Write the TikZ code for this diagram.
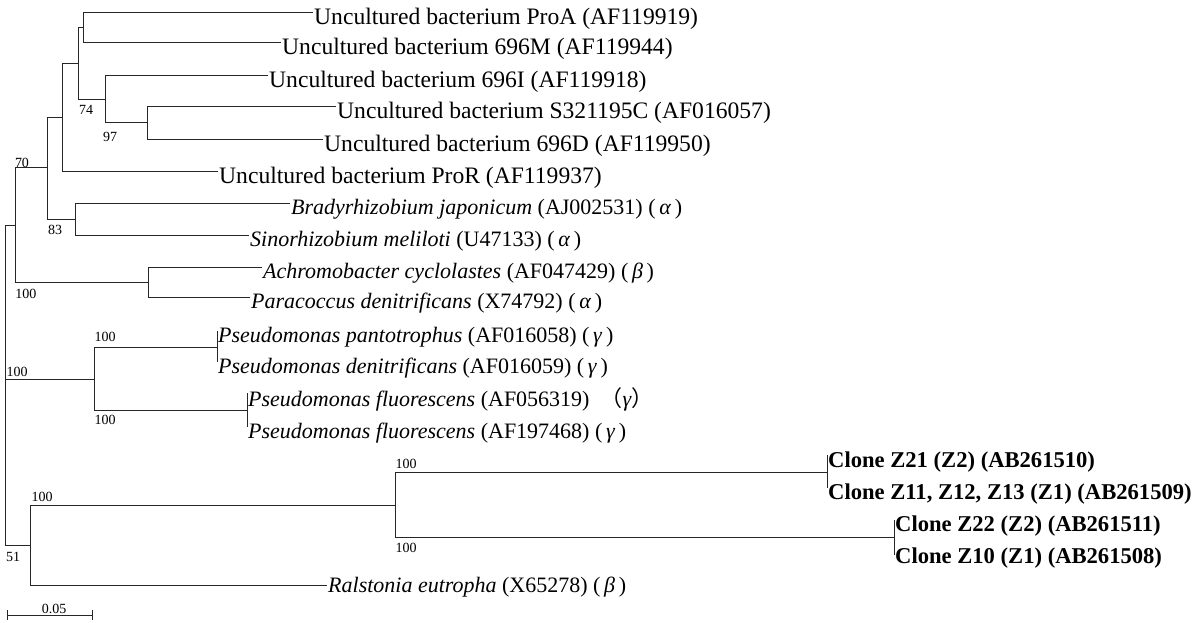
\documentclass[tikz,border=0pt]{standalone}
\usepackage{fontspec}
\setmainfont{Liberation Serif}
\newfontfamily\cjkfnt{Noto Sans CJK SC}
\newcommand\lffont{\fontsize{23.6}{25}\selectfont}
\newcommand\itfont{\fontsize{22}{24}\selectfont}
\newcommand\clfont{\fontsize{22.6}{24}\selectfont\bfseries}
\newcommand\bsfont{\fontsize{14}{16}\selectfont}
\newcommand\gk[1]{(\,\textit{#1}\,)}
\begin{document}
\begin{tikzpicture}[x=1pt,y=-1pt,
  br/.style={line width=1pt,draw=black!85},
  lf/.style={anchor=west,inner sep=1pt,font=\lffont},
  it/.style={anchor=west,inner sep=1pt,font=\itfont},
  cl/.style={anchor=west,inner sep=1pt,font=\clfont},
  bs/.style={inner sep=0pt,font=\bsfont}]
\useasboundingbox (0,0) rectangle (1200,623);
% internal nodes
\coordinate (R) at (5,379);
\coordinate (A) at (15,225);
\coordinate (N70) at (47,168);
\coordinate (N62) at (62,118);
\coordinate (N78) at (78,64);
\coordinate (N83b) at (83,28);
\coordinate (N105) at (105,100);
\coordinate (N147) at (147,123);
\coordinate (N75) at (75,219);
\coordinate (N148) at (148,282);
\coordinate (B) at (94,379);
\coordinate (P1) at (217,347);
\coordinate (P2) at (247,410);
\coordinate (C) at (30,545);
\coordinate (D) at (395,505);
\coordinate (E) at (827,472);
\coordinate (F) at (894,537);
% leaves
\coordinate (lProA) at (313,13);
\coordinate (l696M) at (281,43);
\coordinate (l696I) at (268,76);
\coordinate (lS32) at (336,107);
\coordinate (l696D) at (323,140);
\coordinate (lProR) at (218,172);
\coordinate (lBrady) at (290,203);
\coordinate (lSino) at (249,235);
\coordinate (lAchro) at (262,267);
\coordinate (lPara) at (250,297);
\coordinate (lPpan) at (217,331);
\coordinate (lPden) at (217,362);
\coordinate (lPfa) at (247,393);
\coordinate (lPfb) at (247,427);
\coordinate (lZa) at (827,455);
\coordinate (lZb) at (827,488);
\coordinate (lZc) at (894,520);
\coordinate (lZd) at (894,555);
\coordinate (lRal) at (327,585);
% branches
\draw[br] (R) |- (A);
\draw[br] (R) -- (B);
\draw[br] (R) |- (C);
\draw[br] (A) |- (N70);
\draw[br] (A) |- (N148);
\draw[br] (N70) |- (N62);
\draw[br] (N70) |- (N75);
\draw[br] (N62) |- (N78);
\draw[br] (N62) |- (lProR);
\draw[br] (N78) |- (N83b);
\draw[br] (N78) |- (N105);
\draw[br] (N83b) |- (lProA);
\draw[br] (N83b) |- (l696M);
\draw[br] (N105) |- (l696I);
\draw[br] (N105) |- (N147);
\draw[br] (N147) |- (lS32);
\draw[br] (N147) |- (l696D);
\draw[br] (N75) |- (lBrady);
\draw[br] (N75) |- (lSino);
\draw[br] (N148) |- (lAchro);
\draw[br] (N148) |- (lPara);
\draw[br] (B) |- (P1);
\draw[br] (B) |- (P2);
\draw[br] (lPpan) -- (lPden);
\draw[br] (lPfa) -- (lPfb);
\draw[br] (C) |- (D);
\draw[br] (C) |- (lRal);
\draw[br] (D) |- (E);
\draw[br] (D) |- (F);
\draw[br] (lZa) -- (lZb);
\draw[br] (lZc) -- (lZd);
% leaf labels
\node[lf] (tProA) at ([yshift=-6pt]lProA) {Uncultured bacterium ProA (AF119919)};
\node[lf] (t696M) at ([yshift=-6pt]l696M) {Uncultured bacterium 696M (AF119944)};
\node[lf] (t696I) at ([yshift=-6pt]l696I) {Uncultured bacterium 696I (AF119918)};
\node[lf] (tS32) at ([yshift=-6pt]lS32) {Uncultured bacterium S321195C (AF016057)};
\node[lf] (t696D) at ([yshift=-6pt]l696D) {Uncultured bacterium 696D (AF119950)};
\node[lf] (tProR) at ([yshift=-6pt]lProR) {Uncultured bacterium ProR (AF119937)};
\node[it] (tBrady) at ([yshift=-6pt]lBrady) {\textit{Bradyrhizobium japonicum} (AJ002531) \gk{α}};
\node[it] (tSino) at ([yshift=-6pt]lSino) {\textit{Sinorhizobium meliloti} (U47133) \gk{α}};
\node[it] (tAchro) at ([yshift=-6pt]lAchro) {\textit{Achromobacter cyclolastes} (AF047429) \gk{β}};
\node[it] (tPara) at ([yshift=-6pt]lPara) {\textit{Paracoccus denitrificans} (X74792) \gk{α}};
\node[it] (tPpan) at ([yshift=-6pt]lPpan) {\textit{Pseudomonas pantotrophus} (AF016058) \gk{γ}};
\node[it] (tPden) at ([yshift=-6pt]lPden) {\textit{Pseudomonas denitrificans} (AF016059) \gk{γ}};
\node[it] (tPfa) at ([yshift=-6pt]lPfa) {\textit{Pseudomonas fluorescens} (AF056319) \ {\cjkfnt （}\textit{γ}{\cjkfnt ）}};
\node[it] (tPfb) at ([yshift=-6pt]lPfb) {\textit{Pseudomonas fluorescens} (AF197468) \gk{γ}};
\node[cl] (tZa) at ([yshift=-7pt]lZa) {Clone Z21 (Z2) (AB261510)};
\node[cl] (tZb) at ([yshift=-6pt]lZb) {Clone Z11, Z12, Z13 (Z1) (AB261509)};
\node[cl] (tZc) at ([yshift=-6pt]lZc) {Clone Z22 (Z2) (AB261511)};
\node[cl] (tZd) at ([yshift=-3pt]lZd) {Clone Z10 (Z1) (AB261508)};
\node[it] (tRal) at ([yshift=-2pt]lRal) {\textit{Ralstonia eutropha} (X65278) \gk{β}};
% bootstrap values
\node[bs] (b74) at (86,110) {74};
\node[bs] (b97) at (110,137) {97};
\node[bs] (b70) at (22,163) {70};
\node[bs] (b83) at (55,230) {83};
\node[bs] (b100a) at (26,294) {100};
\node[bs] (b100b) at (105,337) {100};
\node[bs] (b100c) at (17,372) {100};
\node[bs] (b100d) at (105,420) {100};
\node[bs] (b100e) at (42,497) {100};
\node[bs] (b100f) at (406,464) {100};
\node[bs] (b100g) at (406,548) {100};
\node[bs] (b51) at (13,557) {51};
% scale bar
\coordinate (s1) at (7,615);
\coordinate (s2) at (92,615);
\draw[br] (s1) -- (s2);
\draw[br] ([yshift=5pt]s1) -- ([yshift=-5pt]s1);
\draw[br] ([yshift=5pt]s2) -- ([yshift=-5pt]s2);
\node[bs,anchor=south] (scl) at (54,614) {0.05};
\end{tikzpicture}
\end{document}
